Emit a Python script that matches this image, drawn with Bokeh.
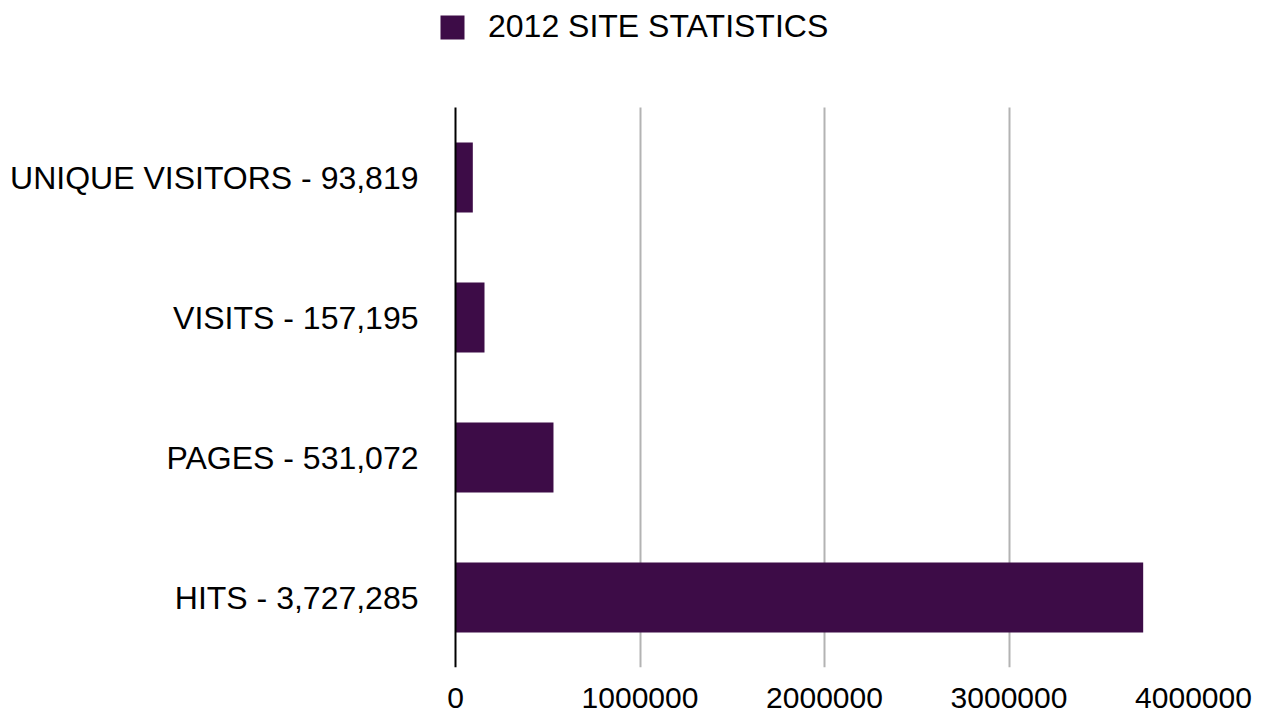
from bokeh.plotting import figure
from bokeh.models import Range1d, FixedTicker, BasicTickFormatter, Legend, LegendItem, LinearAxis
from bokeh.embed import file_html
from bokeh.resources import INLINE

metrics = ["UNIQUE VISITORS", "VISITS", "PAGES", "HITS"]
counts = [93819, 157195, 531072, 3727285]
x_ticks = [0, 1000000, 2000000, 3000000, 4000000]
series_name = "2012 SITE STATISTICS"

labels = [f"{m} - {c:,}" for m, c in zip(metrics, counts)]
y_pos = list(range(len(metrics)))[::-1]   # first metric on top

BAR = "#3d0c47"
FONT = "Liberation Sans"

# layout (pixels)
W, H = 1265, 713
frame_left, zero_px, max_px = 437, 455, 1193
frame_bottom, band_px = 667, 140
x_max = x_ticks[-1]
x_min = -(zero_px - frame_left) * x_max / (max_px - zero_px)
y_lo = -0.5
y_hi = y_lo + frame_bottom / band_px
y_top = len(metrics) - 0.5

p = figure(width=W, height=H, output_backend="svg", toolbar_location=None,
           x_range=Range1d(x_min, x_max), y_range=Range1d(y_lo, y_hi),
           min_border_left=frame_left, min_border_top=0,
           min_border_right=W - max_px, min_border_bottom=H - frame_bottom)
p.outline_line_color = None

r = p.hbar(y=y_pos, right=counts, left=0, height=0.5, fill_color=BAR, line_color=None)

p.xaxis.ticker = FixedTicker(ticks=x_ticks)
p.xaxis.formatter = BasicTickFormatter(use_scientific=False)
p.xaxis.axis_line_color = None
p.xaxis.major_tick_line_color = None
p.xaxis.minor_tick_line_color = None
p.xaxis.major_tick_out = 0
p.xaxis.major_label_standoff = 20
p.xaxis.major_label_text_font = FONT
p.xaxis.major_label_text_font_size = "30px"
p.xaxis.major_label_text_color = "#000000"

# category labels
p.yaxis.ticker = FixedTicker(ticks=y_pos)
p.yaxis.major_label_overrides = {yp: lab for yp, lab in zip(y_pos, labels)}
p.yaxis.axis_line_color = None
p.yaxis.major_tick_line_color = None
p.yaxis.minor_tick_line_color = None
p.yaxis.major_tick_out = 0
p.yaxis.major_label_standoff = 37 - (zero_px - frame_left)
p.yaxis.major_label_text_font = FONT
p.yaxis.major_label_text_font_size = "32px"
p.yaxis.major_label_text_color = "#000000"

# baseline axis line at x = 0
zero_axis = LinearAxis(fixed_location=0, ticker=FixedTicker(ticks=[]), bounds=(y_lo, y_top),
                       axis_line_color="#000000", axis_line_width=2,
                       major_tick_line_color=None, minor_tick_line_color=None,
                       major_tick_out=0, minor_tick_out=0, major_label_standoff=0)
p.add_layout(zero_axis, "left")

p.xgrid.ticker = FixedTicker(ticks=x_ticks[1:])
p.xgrid.cross_bounds = (y_lo, y_top)
p.xgrid.grid_line_color = "#b3b3b3"
p.xgrid.grid_line_width = 2
p.ygrid.grid_line_color = None

legend = Legend(items=[LegendItem(label=series_name, renderers=[r])],
                location=(0, frame_bottom - 7 - 38), orientation="horizontal",
                padding=0, margin=0, border_line_color=None, background_fill_alpha=0,
                glyph_width=30, glyph_height=30, label_standoff=21,
                label_text_font=FONT, label_text_font_size="32px", label_text_color="#000000")
p.add_layout(legend)

open("out.html", "w").write(file_html(p, INLINE))
